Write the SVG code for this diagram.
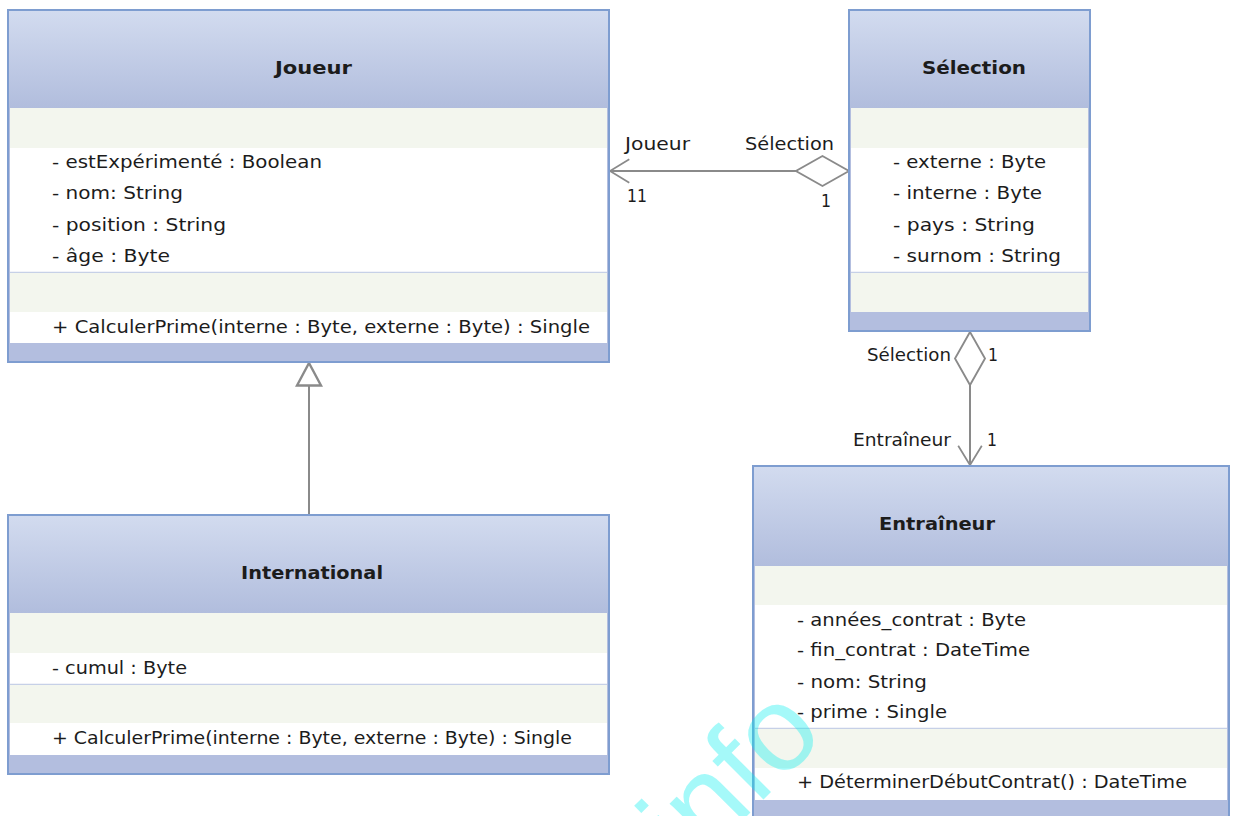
<svg xmlns="http://www.w3.org/2000/svg" width="1235" height="816" viewBox="0 0 1235 816">
<style>
.frame{fill:#b3bedf;stroke:#7e9dd0;stroke-width:2}
.hdr{fill:url(#hdrGrad)}
.light{fill:#f3f6ee}
.white{fill:#ffffff}
.sep{stroke:#c6d0e7;stroke-width:1.5}
.title{font-family:"DejaVu Sans","Liberation Sans",sans-serif;font-weight:bold;font-size:18px;fill:#1c1c1c}
.attr{font-family:"DejaVu Sans","Liberation Sans",sans-serif;font-size:17.5px;fill:#1c1c1c}
.lbl{font-family:"DejaVu Sans","Liberation Sans",sans-serif;font-size:17px;fill:#1c1c1c}
.conn{stroke:#8a8a8a;stroke-width:2;fill:none}
.wm{font-family:"Liberation Sans",sans-serif;font-size:120px;fill:#00f0f0;opacity:0.35}
</style>
<defs>
<linearGradient id="hdrGrad" x1="0" y1="0" x2="0" y2="1">
<stop offset="0" stop-color="#d2dbef"/>
<stop offset="1" stop-color="#b1bddd"/>
</linearGradient>
<marker id="diamond" markerUnits="userSpaceOnUse" markerWidth="60" markerHeight="40" viewBox="-2 -16 52 32" refX="0" refY="0" orient="auto" overflow="visible">
<path d="M0,0 L23,-13 L46,0 L23,13 Z" fill="#ffffff" stroke="#8a8a8a" stroke-width="1.6"/>
</marker>
<marker id="openArrow" markerUnits="userSpaceOnUse" markerWidth="30" markerHeight="30" viewBox="-22 -14 24 28" refX="0" refY="0" orient="auto" overflow="visible">
<path d="M-18,-11 L0,0 L-18,11" fill="none" stroke="#8a8a8a" stroke-width="1.6"/>
</marker>
<marker id="triangle" markerUnits="userSpaceOnUse" markerWidth="30" markerHeight="30" viewBox="-18 -10 20 20" refX="0" refY="0" orient="auto" overflow="visible">
<path d="M0,0 L-15,-8 L-15,8 Z" fill="#ffffff" stroke="#8a8a8a" stroke-width="1.6"/>
</marker>
</defs>
<rect x="0" y="0" width="1235" height="816" fill="#ffffff"/>

<g id="connectors">
<path class="conn" d="M849,171 L610,171" marker-start="url(#diamond)" marker-end="url(#openArrow)"/>
<path class="conn" d="M970,332 L970,465" marker-start="url(#diamond)" marker-end="url(#openArrow)"/>
<path class="conn" d="M309,515 L309,363" marker-end="url(#triangle)"/>
<text class="lbl" x="625" y="150" textLength="65" lengthAdjust="spacingAndGlyphs">Joueur</text>
<text class="lbl" x="745" y="150" textLength="89" lengthAdjust="spacingAndGlyphs">Sélection</text>
<text class="lbl" x="627" y="202" textLength="20" lengthAdjust="spacingAndGlyphs">11</text>
<text class="lbl" x="821" y="207" textLength="10" lengthAdjust="spacingAndGlyphs">1</text>
<text class="lbl" x="867" y="361" textLength="84" lengthAdjust="spacingAndGlyphs">Sélection</text>
<text class="lbl" x="988" y="361" textLength="10" lengthAdjust="spacingAndGlyphs">1</text>
<text class="lbl" x="853" y="446" textLength="98" lengthAdjust="spacingAndGlyphs">Entraîneur</text>
<text class="lbl" x="987" y="446" textLength="10" lengthAdjust="spacingAndGlyphs">1</text>
</g>

<g id="Joueur">
<rect class="frame" x="8" y="10" width="601" height="352"/>
<rect class="hdr" x="9" y="11" width="599" height="97"/>
<rect class="light" x="10" y="108" width="597" height="40"/>
<rect class="white" x="10" y="148" width="597" height="124"/>
<line class="sep" x1="10" y1="272.5" x2="607" y2="272.5"/>
<rect class="light" x="10" y="273" width="597" height="39"/>
<rect class="white" x="10" y="312" width="597" height="31"/>
<text class="title" x="275" y="74" textLength="77" lengthAdjust="spacingAndGlyphs">Joueur</text>
<text class="attr" x="52" y="168" textLength="270" lengthAdjust="spacingAndGlyphs">- estExpérimenté : Boolean</text>
<text class="attr" x="52" y="199" textLength="131" lengthAdjust="spacingAndGlyphs">- nom: String</text>
<text class="attr" x="52" y="231" textLength="174" lengthAdjust="spacingAndGlyphs">- position : String</text>
<text class="attr" x="52" y="262" textLength="118" lengthAdjust="spacingAndGlyphs">- âge : Byte</text>
<text class="attr" x="52" y="333" textLength="538" lengthAdjust="spacingAndGlyphs">+ CalculerPrime(interne : Byte, externe : Byte) : Single</text>
</g>

<g id="Selection">
<rect class="frame" x="849" y="10" width="241" height="321"/>
<rect class="hdr" x="850" y="11" width="239" height="97"/>
<rect class="light" x="851" y="108" width="237" height="40"/>
<rect class="white" x="851" y="148" width="237" height="124"/>
<line class="sep" x1="851" y1="272.5" x2="1088" y2="272.5"/>
<rect class="light" x="851" y="273" width="237" height="39"/>
<text class="title" x="922" y="74" textLength="104" lengthAdjust="spacingAndGlyphs">Sélection</text>
<text class="attr" x="893" y="168" textLength="153" lengthAdjust="spacingAndGlyphs">- externe : Byte</text>
<text class="attr" x="893" y="199" textLength="149" lengthAdjust="spacingAndGlyphs">- interne : Byte</text>
<text class="attr" x="893" y="231" textLength="142" lengthAdjust="spacingAndGlyphs">- pays : String</text>
<text class="attr" x="893" y="262" textLength="168" lengthAdjust="spacingAndGlyphs">- surnom : String</text>
</g>

<g id="International">
<rect class="frame" x="8" y="515" width="601" height="259"/>
<rect class="hdr" x="9" y="516" width="599" height="97"/>
<rect class="light" x="10" y="613" width="597" height="40"/>
<rect class="white" x="10" y="653" width="597" height="31"/>
<line class="sep" x1="10" y1="684.5" x2="607" y2="684.5"/>
<rect class="light" x="10" y="685" width="597" height="38"/>
<rect class="white" x="10" y="723" width="597" height="32"/>
<text class="title" x="241" y="579" textLength="142" lengthAdjust="spacingAndGlyphs">International</text>
<text class="attr" x="52" y="674" textLength="135" lengthAdjust="spacingAndGlyphs">- cumul : Byte</text>
<text class="attr" x="52" y="744" textLength="520" lengthAdjust="spacingAndGlyphs">+ CalculerPrime(interne : Byte, externe : Byte) : Single</text>
</g>

<g id="Entraineur">
<rect class="frame" x="753" y="466" width="476" height="370"/>
<rect class="hdr" x="754" y="467" width="474" height="99"/>
<rect class="light" x="755" y="566" width="472" height="39"/>
<rect class="white" x="755" y="605" width="472" height="123"/>
<line class="sep" x1="755" y1="728.5" x2="1227" y2="728.5"/>
<rect class="light" x="755" y="729" width="472" height="39"/>
<rect class="white" x="755" y="768" width="472" height="32"/>
<text class="title" x="879" y="530" textLength="116" lengthAdjust="spacingAndGlyphs">Entraîneur</text>
<text class="attr" x="797" y="626" textLength="229" lengthAdjust="spacingAndGlyphs">- années_contrat : Byte</text>
<text class="attr" x="797" y="656" textLength="233" lengthAdjust="spacingAndGlyphs">- fin_contrat : DateTime</text>
<text class="attr" x="797" y="688" textLength="130" lengthAdjust="spacingAndGlyphs">- nom: String</text>
<text class="attr" x="797" y="718" textLength="150" lengthAdjust="spacingAndGlyphs">- prime : Single</text>
<text class="attr" x="797" y="788" textLength="390" lengthAdjust="spacingAndGlyphs">+ DéterminerDébutContrat() : DateTime</text>
</g>

<g id="watermark">
<text class="wm" transform="translate(690,873) rotate(-45)" x="0" y="0">info</text>
</g>
</svg>
